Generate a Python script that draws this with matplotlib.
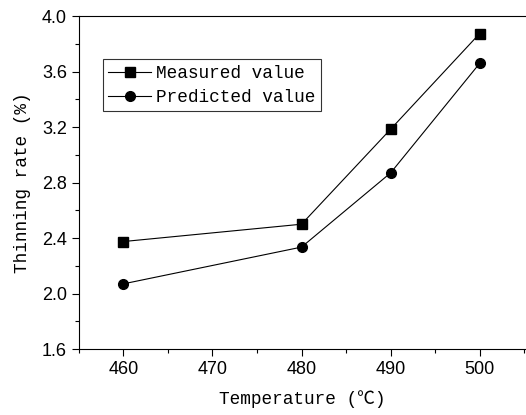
import numpy as np
import matplotlib
matplotlib.use('Agg')
import matplotlib.pyplot as plt
from matplotlib.ticker import MultipleLocator

temperature = [460, 480, 490, 500]
measured = [2.375, 2.50, 3.185, 3.875]
predicted = [2.07, 2.335, 2.87, 3.66]

label_font = ['Liberation Mono', 'Noto Sans CJK SC', 'DejaVu Sans']
tick_font = 'Liberation Sans'

fig = plt.figure(figsize=(5.26, 4.15), dpi=100)
ax = fig.add_axes([0.150, 0.159, 0.85, 0.802])

ax.plot(temperature, measured, c='k', lw=0.8, marker='s', ms=6.5, label='Measured value')
ax.plot(temperature, predicted, c='k', lw=0.8, marker='o', ms=7, label='Predicted value')

ax.set_xlim(455, 505.2)
ax.set_ylim(1.6, 4.0)
ax.xaxis.set_major_locator(MultipleLocator(10))
ax.xaxis.set_minor_locator(MultipleLocator(5))
ax.yaxis.set_major_locator(MultipleLocator(0.4))
ax.yaxis.set_minor_locator(MultipleLocator(0.2))
ax.yaxis.set_major_formatter(matplotlib.ticker.FormatStrFormatter('%.1f'))
ax.tick_params(which='major', direction='out', length=5, width=0.8, labelsize=13)
ax.tick_params(which='minor', direction='out', length=3, width=0.8)
for lab in ax.get_xticklabels() + ax.get_yticklabels():
    lab.set_family(tick_font)
ax.spines['right'].set_visible(False)
for s in ['left', 'bottom', 'top']:
    ax.spines[s].set_linewidth(0.8)

ax.set_xlabel('Temperature (\u2103)', family=label_font, fontsize=12.8, labelpad=9)
ax.set_ylabel('Thinning rate (%)', family=label_font, fontsize=12.8, labelpad=8)

leg = ax.legend(loc='upper left', bbox_to_anchor=(0.054, 0.87), prop={'family': label_font, 'size': 12.8},
                frameon=True, fancybox=False, edgecolor='k', handlelength=2.4,
                handletextpad=0.3, borderpad=0.3, labelspacing=0.4, borderaxespad=0)
leg.get_frame().set_linewidth(0.8)

fig.savefig('out.png', dpi=100)
